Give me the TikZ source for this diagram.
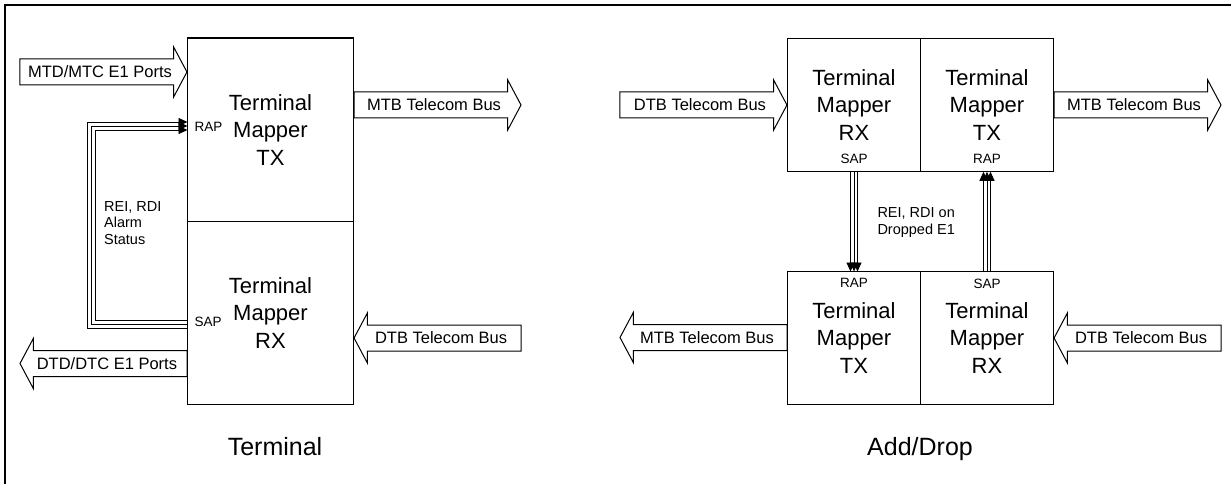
\documentclass[tikz,border=0pt]{standalone}
\usepackage{fontspec}
\setmainfont{Liberation Sans}
\usetikzlibrary{positioning,shapes.arrows,arrows.meta}

\begin{document}
\begin{tikzpicture}[x=1pt,y=-1pt,>={Triangle[length=9pt,width=8pt]},
    mapper/.style={draw,line width=1.2pt,outer sep=0pt,inner sep=0pt,align=center,font=\fontsize{22}{27.5}\selectfont},
    bus/.style={single arrow,draw,line width=1pt,single arrow head extend=12pt,single arrow tip angle=124,minimum height=167pt,inner ysep=6.75pt,inner xsep=4pt,text height=11.5pt,text depth=0pt,font=\fontsize{16.5}{18}\selectfont},
    busleft/.style={bus,shape border rotate=180},
    port/.style={inner sep=0pt,font=\fontsize{13.5}{15}\selectfont},
    note/.style={inner sep=0pt,align=left,font=\fontsize{14.5}{16.5}\selectfont},
    title/.style={inner sep=0pt,font=\fontsize{25}{30}\selectfont},
    feed/.style={->,line width=0.9pt}]
    \useasboundingbox (0,0) rectangle (1231,484);
    \draw[line width=2pt] (5.3,484) -- (5.3,5.3) -- (1231,5.3);

    % terminal
    \node[mapper,minimum width=166pt,minimum height=183.5pt] (ltx) at (270.5,129.75) {Terminal\\Mapper\\TX};
    \node[mapper,minimum width=166pt,minimum height=183pt] (lrx) [below=0pt of ltx] {Terminal\\Mapper\\RX};
    \node[port] (rapL) [right=7pt of ltx.west,yshift=3pt] {RAP};
    \node[port] (sapL) [right=7pt of lrx.west,yshift=-9pt] {SAP};

    \node[bus,anchor=tip] (mtd) at (ltx.west |- 0,72) {MTD/MTC E1 Ports};
    \node[bus,anchor=tail] (mtbL) at (ltx.east |- 0,105) {MTB Telecom Bus};
    \node[busleft,anchor=tip] (dtbL) at (lrx.east |- 0,338) {DTB Telecom Bus};
    \node[busleft,anchor=tail] (dtd) at (lrx.west |- 0,363.5) {DTD/DTC E1 Ports};

    \foreach \d in {-4,0,4}
        \draw[feed] (lrx.west |- 0,324-\d) -| (91.5+\d,126+\d) -- (ltx.west |- 0,126+\d);
    \node[note,anchor=north west] (alarm) at (104,201) {REI, RDI\\Alarm\\Status};

    \node[title,anchor=base] (term) at (275,455) {Terminal};

    % add/drop
    \node[mapper,minimum width=133pt,minimum height=133.5pt] (rrx) at (854,105) {Terminal\\Mapper\\RX};
    \node[mapper,minimum width=133pt,minimum height=133.5pt] (rtx) [right=0pt of rrx] {Terminal\\Mapper\\TX};
    \node[mapper,minimum width=133pt,minimum height=133pt] (btx) at (854,338) {Terminal\\Mapper\\TX};
    \node[mapper,minimum width=133pt,minimum height=133pt] (brx) [right=0pt of btx] {Terminal\\Mapper\\RX};

    \node[port] (sapT) [above=8pt of rrx.south] {SAP};
    \node[port] (rapT) [above=8pt of rtx.south] {RAP};
    \node[port] (rapB) [below=7pt of btx.north] {RAP};
    \node[port] (sapB) [below=7pt of brx.north] {SAP};

    \node[bus,anchor=tip] (dtbR) at (rrx.west |- 0,105) {DTB Telecom Bus};
    \node[bus,anchor=tail] (mtbR) at (rtx.east |- 0,105) {MTB Telecom Bus};
    \node[busleft,anchor=tail] (mtbB) at (btx.west |- 0,337.5) {MTB Telecom Bus};
    \node[busleft,anchor=tip] (dtbB) at (brx.east |- 0,338) {DTB Telecom Bus};

    \foreach \d in {-3.5,0,3.5} {
        \draw[feed] ([xshift=\d pt]rrx.south) -- ([xshift=\d pt]btx.north);
        \draw[feed] ([xshift=\d pt]brx.north) -- ([xshift=\d pt]rtx.south);
    }
    \node[note,anchor=north west] (drop) at (877.3,207.5) {REI, RDI on\\Dropped E1};

    \node[title,anchor=base] (adddrop) at (920,455) {Add/Drop};
\end{tikzpicture}
\end{document}
